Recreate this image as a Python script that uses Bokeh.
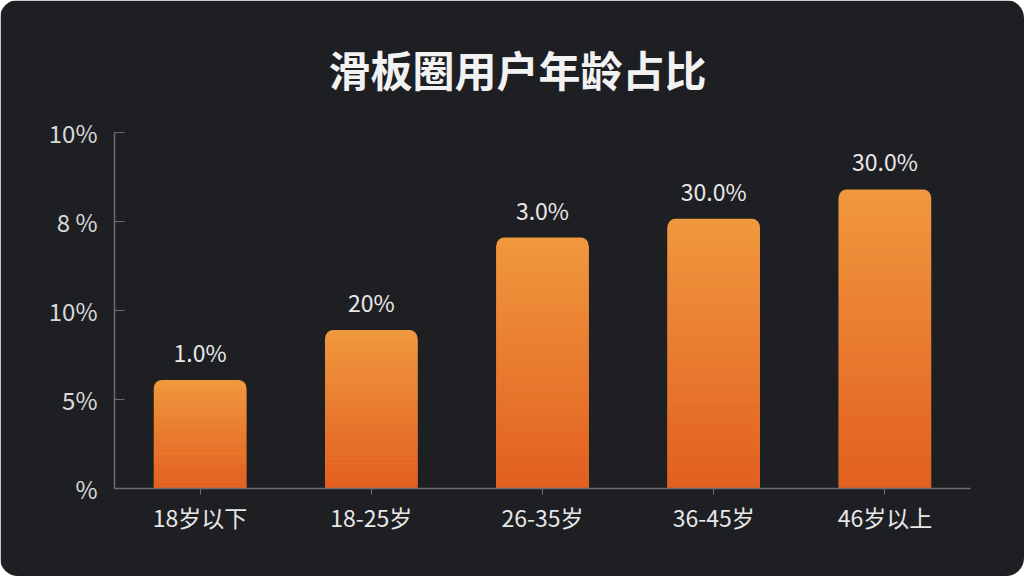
from bokeh.plotting import figure
from bokeh.models import Range1d, FactorRange, FixedTicker, ColumnDataSource
from bokeh.embed import file_html
from bokeh.resources import INLINE

# ---- data ----
categories = ["18岁以下", "18-25岁", "26-35岁", "36-45岁", "46岁以上"]
values = [1.22, 1.78, 2.82, 3.03, 3.36]          # heights in axis units
bar_labels = ["1.0%", "20%", "3.0%", "30.0%", "30.0%"]
y_ticks = [0, 1, 2, 3, 4]
y_tick_labels = ["%", "5%", "10%", "8 %", "10%"]
title_text = "滑板圈用户年龄占比"

BG = "#1e1f23"
FONT = "Noto Sans CJK SC"
TOP_C = (240, 152, 62)
BOT_C = (226, 95, 32)

p = figure(
    width=1024, height=576,
    x_range=FactorRange(*categories, range_padding=0),
    y_range=Range1d(0, 4),
    output_backend="svg", toolbar_location=None,
    min_border_left=114, min_border_right=54,
    min_border_top=132, min_border_bottom=88,
    outline_line_color=BG, outline_line_width=3,
    border_line_color=None,
)
p.styles = {"border-radius": "18px", "overflow": "hidden"}
p.background_fill_color = BG
p.border_fill_color = BG
p.xgrid.visible = False
p.ygrid.visible = False

p.title.text = title_text
p.title.text_font = FONT
p.title.text_font_size = "42px"
p.title.text_font_style = "bold"
p.title.text_color = "#f2f2f2"
p.title.align = "left"
p.title.offset = 214
p.title.standoff = 68

# bars: full rounded bar in top colour, then gradient slices below the rounded cap
W = 0.54
p.vbar(x=categories, top=values, bottom=0, width=W,
       fill_color="#%02x%02x%02x" % TOP_C, line_color=None,
       border_radius=(8, 8, 0, 0))
N = 60
xs, b, t, cols = [], [], [], []
for c, v in zip(categories, values):
    body = v - 0.1
    for i in range(N):
        f = (i + 0.5) / N
        frac = f * body / v
        col = tuple(int(round(BOT_C[k] + (TOP_C[k] - BOT_C[k]) * frac)) for k in range(3))
        xs.append(c)
        b.append(body * i / N)
        t.append(body * (i + 1) / N + 0.005)
        cols.append("#%02x%02x%02x" % col)
p.vbar(x=xs, bottom=b, top=t, width=W, fill_color=cols, line_color=None)

src = ColumnDataSource(dict(x=categories, y=values, t=bar_labels))
p.text(x="x", y="y", text="t", source=src, text_align="center",
       text_baseline="bottom", y_offset=-11, text_font_size="23px",
       text_color="#e8e8e8", text_font={"value": FONT})

# axes
ax = p.yaxis[0]
ax.ticker = FixedTicker(ticks=y_ticks)
ax.major_label_overrides = {t_: l for t_, l in zip(y_ticks, y_tick_labels)}
ax.major_label_text_font = FONT
ax.major_label_text_font_size = "24px"
ax.major_label_text_color = "#d9d9d9"
ax.major_label_standoff = 17
ax.major_tick_in = 10
ax.major_tick_out = 0
ax.minor_tick_line_color = None
ax.axis_line_color = "#6a6d72"
ax.major_tick_line_color = "#6a6d72"
ax.axis_line_width = 1.5

bx = p.xaxis[0]
bx.major_label_text_font = FONT
bx.major_label_text_font_size = "23px"
bx.major_label_text_color = "#e8e8e8"
bx.major_label_standoff = 5
bx.major_tick_in = 0
bx.major_tick_out = 6
bx.axis_line_color = "#6a6d72"
bx.major_tick_line_color = "#6a6d72"
bx.axis_line_width = 1.5

open("out.html", "w").write(file_html(p, INLINE))
